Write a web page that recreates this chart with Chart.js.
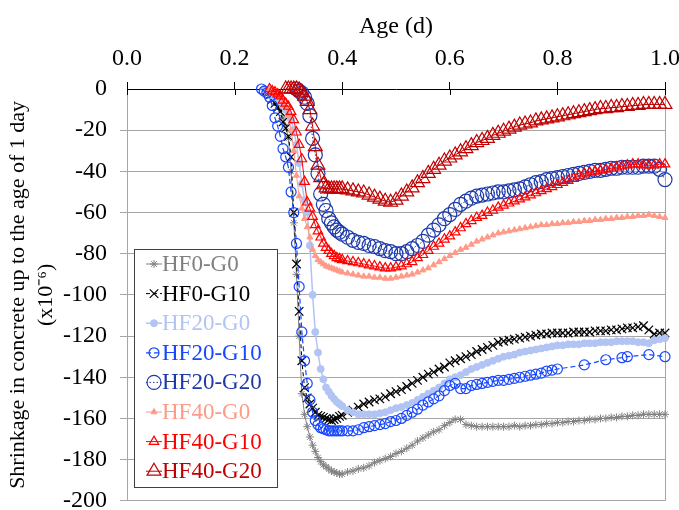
<!DOCTYPE html>
<html>
<head>
<meta charset="utf-8">
<script src="https://cdn.jsdelivr.net/npm/chart.js@4.4.1/dist/chart.umd.min.js"></script>
<style>
  html, body { margin: 0; padding: 0; background: #fff; }
  #wrap { width: 679px; height: 510px; }
</style>
</head>
<body>
<div id="wrap"><canvas id="c" width="679" height="510"></canvas></div>
<script>
// age in days; finer steps through the drop
const ages = [
  0.25, 0.255, 0.26, 0.265, 0.27, 0.275, 0.28, 0.285, 0.29, 0.295,
  0.30, 0.305, 0.31, 0.315, 0.32, 0.325, 0.33, 0.335, 0.34, 0.345,
  0.35, 0.355, 0.36, 0.365, 0.37, 0.375, 0.38, 0.385, 0.39, 0.395,
  0.40, 0.41, 0.42, 0.43, 0.44, 0.45, 0.46, 0.47, 0.48, 0.49,
  0.50, 0.51, 0.52, 0.53, 0.54, 0.55, 0.56, 0.57, 0.58, 0.59,
  0.60, 0.61, 0.62, 0.63, 0.64, 0.65, 0.66, 0.67, 0.68, 0.69,
  0.70, 0.71, 0.72, 0.73, 0.74, 0.75, 0.76, 0.77, 0.78, 0.79,
  0.80, 0.81, 0.82, 0.83, 0.84, 0.85, 0.86, 0.87, 0.88, 0.89,
  0.90, 0.91, 0.92, 0.93, 0.94, 0.95, 0.96, 0.97, 0.98, 0.99,
  1.00
];

const hf0g0 = [
  null, null, -1, -2, -4, -6, -8, -10, -14, -18,
  -24, -40, -65, -90, -120, -148, -158, -164, -169, -173,
  -176, -179, -181, -182.5, -183.5, -184.5, -185.5, -186, -186.5, -187,
  -187, -186, -185.5, -184.5, -184, -183, -181.5, -180.5, -179.5, -178.5,
  -177, -176, -174.5, -173, -171, -169.5, -168, -166.5, -165.5, -163.5,
  -162, -160.5, -160.5, -163, -163.5, -164, -164, -164, -164, -164,
  -164, -164, -163.5, -164, -163.5, -163.5, -163, -163, -162.5, -162.5,
  -162, -162, -161.5, -161.5, -161, -161, -160.5, -160.5, -160, -160,
  -159.5, -159.5, -159, -159, -158.5, -158.5, -158, -158, -158, -158,
  -158
];

const hf0g10 = [
  null, null, -1, -3, -5, -7, -9, -11, -16, -19,
  -23, -33, -60, -85, -108, -132, -145, -150, -153, -155,
  -157, -158.5, -159, -159.5, -160, -160.5, -161, -160.5, -160, -159,
  -158.5, -157, -156, -154.5, -153, -152, -151, -150.5, -149.5, -148,
  -147, -146, -144.5, -143, -141.5, -140, -138.5, -137.5, -136, -135,
  -133, -132, -131, -130, -129, -127.5, -126.5, -125.5, -124.5, -123,
  -122.5, -122, -121.5, -121, -120.5, -120, -119.5, -119, -119, -118.5,
  -118.5, -118.5, -118.5, -118, -118, -118, -118, -117.5, -117.5, -117.5,
  -117, -117, -116.5, -116, -116, -115.5, -115, -117, -119, -118.5,
  -118.5
];

const hf20g0 = [
  null, 0, -1, -2, -3, -4, -5, -6, -8, -10,
  -12, -15, -20, -27, -36, -46, -54, -60, -76, -100,
  -118, -128, -136, -141, -145, -147, -149, -150.5, -152, -153,
  -154, -156, -157, -158, -158, -158, -158, -157.5, -157, -156,
  -155, -154.5, -153.5, -152.5, -151, -149.5, -148, -146.5, -145, -143,
  -141, -140, -139, -137.5, -136, -135, -134, -133, -132, -131,
  -130, -129.5, -129, -128, -127.5, -127, -126.5, -126, -125.5, -125,
  -124.5, -124.5, -124, -124, -124, -123.5, -123.5, -123.5, -123, -123,
  -123, -122.5, -122.5, -122.5, -122.5, -123, -123, -123.5, -122, -121.5,
  -121
];

const hf20g10 = [
  0, -1, -2, -4, -8, -14, -18, -23, -29, -33,
  -38, -50, -60, -75, -96, -118, -132, -143, -151, -157,
  -161, -163, -164.5, -165, -165.5, -166, -166, -166, -166, -166,
  -166, -166, -166, -165.5, -164.5, -164, -163.5, -163, -162.5, -161.5,
  -161, -160, -158.5, -157, -155.5, -153.5, -152, -150.5, -149, -146.5,
  -144, -143, -145.5, -145.5, -144, -143.5, -143, -142.5, -142, -141.5,
  -141.5, -141, -140.5, -140, -139.5, -139, -138.5, -138, -137, -136.5,
  -136, null, null, null, null, -134, null, null, null, -131.5,
  null, null, -130.5, -130, null, null, null, -129, null, null,
  -130
];

const hf20g20 = [
  null, null, null, null, null, null, null, null, null, null,
  null, null, null, 0, -1, -2, -4, -7, -13, -24,
  -32, -41, -51, -56, -59, -63, -65, -67, -68.5, -69.5,
  -70.5, -72, -73.5, -74.5, -75, -76, -76.5, -77.5, -78.5, -79,
  -80, -80, -79, -77.5, -76, -74, -71, -68.5, -66, -63,
  -61, -58.5, -56, -54.5, -53, -52, -51.5, -51, -50.5, -50,
  -50, -49.5, -49, -48.5, -47.5, -46.5, -45.5, -45, -44, -43.5,
  -43, -42.5, -42, -41.5, -41, -40.5, -40, -39.5, -39.5, -39,
  -38.5, -38.5, -38, -38, -38, -38, -37.5, -37.5, -37.5, -39,
  -44
];

const hf40g0 = [
  null, null, null, 0, -1, -2, -3, -4, -6, -9,
  -13, -20, -30, -42, -52, -58, -63, -67, -72, -78,
  -81, -83, -84, -85, -86, -86.5, -87, -87.5, -88, -88.5,
  -89, -89.5, -90, -90.5, -91, -91, -91.5, -91.5, -92, -92,
  -91.5, -91, -90.5, -90, -89, -88, -87, -85.5, -84, -82.5,
  -81, -79.5, -78, -77, -75.5, -74, -73, -72, -71, -70,
  -69.5, -69, -68.5, -68, -67.5, -67, -66.5, -66, -66, -65.5,
  -65.5, -65, -65, -64.5, -64.5, -64, -64, -63.5, -63.5, -63,
  -63, -62.5, -62.5, -62, -62, -61.5, -61.5, -61, -61.5, -62,
  -62.5
];

const hf40g10 = [
  null, null, null, 0, -1, -1.5, -2.5, -3.5, -5.5, -7,
  -8.5, -11, -15, -21, -27, -34, -45, -55, -58, -62,
  -66, -69, -72, -75, -77, -78.5, -80, -81, -82, -82.5,
  -83, -83.5, -84, -84.5, -85, -85.5, -86, -86.5, -87, -87,
  -86.5, -86, -85, -84, -82, -80.5, -78.5, -76.5, -75, -73,
  -71.5, -69.5, -67.5, -65.5, -64, -62.5, -61.5, -60, -59, -57.5,
  -56.5, -55.5, -54.5, -53.5, -52.5, -51.5, -50.5, -49.5, -48.5, -47.5,
  -46.5, -45.5, -44.5, -43.5, -42, -41, -40.5, -40, -39.5, -39,
  -38.5, -38, -37.5, -37, -36.5, -36.5, -37, -37, -37, -36.5,
  -36.5
];

const hf40g20 = [
  null, null, null, null, null, null, null, null, null, 0,
  0, 0, 0, 0, -0.5, -1.5, -3.5, -6, -10, -18,
  -28, -37, -43, -46.5, -48, -48.5, -48.5, -48.5, -48.5, -48.5,
  -48.5, -49, -49.5, -50, -50.5, -51.5, -52.5, -53.5, -54.5, -55,
  -54, -52, -50, -48, -45.5, -43.5, -41, -39, -37, -35,
  -33.5, -32, -30.5, -29, -27.5, -26, -25, -24, -22.5, -21.5,
  -20.5, -19.5, -18.5, -17.5, -17, -16.5, -15.5, -15, -14.5, -14,
  -13.5, -13, -12.5, -12, -11.5, -11, -10.5, -10, -9.5, -9.5,
  -9, -9, -8.5, -8.5, -8, -8, -7.5, -7.5, -7.5, -7.5,
  -7.5
];

const FONT = "'Liberation Serif', 'Times New Roman', serif";

const series = [
  { label: 'HF0-G0',   values: hf0g0,   color: '#808080', style: 'star',     radius: 4,   filled: false, pointWidth: 1,   lineWidth: 1,   dash: [] },
  { label: 'HF0-G10',  values: hf0g10,  color: '#000000', style: 'crossRot', radius: 6,   filled: false, pointWidth: 1.2, lineWidth: 1,   dash: [4, 3] },
  { label: 'HF20-G0',  values: hf20g0,  color: '#b1c4f3', style: 'circle',   radius: 3.5, filled: true,  pointWidth: 1,   lineWidth: 1.5, dash: [] },
  { label: 'HF20-G10', values: hf20g10, color: '#1747ff', style: 'circle',   radius: 5,   filled: false, pointWidth: 1.2, lineWidth: 1.2, dash: [5, 3] },
  { label: 'HF20-G20', values: hf20g20, color: '#1c3aa9', style: 'circle',   radius: 7,   filled: false, pointWidth: 1.2, lineWidth: 1,   dash: [1.5, 2] },
  { label: 'HF40-G0',  values: hf40g0,  color: '#ff9a88', style: 'triangle', radius: 3.5, filled: true,  pointWidth: 1,   lineWidth: 1,   dash: [] },
  { label: 'HF40-G10', values: hf40g10, color: '#ff0000', style: 'triangle', radius: 5.5, filled: false, pointWidth: 1.2, lineWidth: 1,   dash: [] },
  { label: 'HF40-G20', values: hf40g20, color: '#c00000', style: 'triangle', radius: 8,   filled: false, pointWidth: 1.2, lineWidth: 1,   dash: [] }
];

function drawMarker(ctx, s, x, y) {
  const r = s.radius;
  ctx.save();
  ctx.setLineDash([]);
  ctx.lineWidth = s.pointWidth;
  ctx.strokeStyle = s.color;
  ctx.fillStyle = s.color;
  ctx.beginPath();
  if (s.style === 'circle') {
    ctx.arc(x, y, r, 0, Math.PI * 2);
  } else if (s.style === 'triangle') {
    const a = r * Math.sin(Math.PI / 3);
    ctx.moveTo(x, y - r);
    ctx.lineTo(x + a, y + r / 2);
    ctx.lineTo(x - a, y + r / 2);
    ctx.closePath();
  } else {
    const d = r * Math.SQRT1_2;
    ctx.moveTo(x - d, y - d); ctx.lineTo(x + d, y + d);
    ctx.moveTo(x + d, y - d); ctx.lineTo(x - d, y + d);
    if (s.style === 'star') {
      ctx.moveTo(x, y - r); ctx.lineTo(x, y + r);
      ctx.moveTo(x - r, y); ctx.lineTo(x + r, y);
    }
  }
  if (s.filled) ctx.fill();
  ctx.stroke();
  ctx.restore();
}

// frame bits Excel draws that Chart.js doesn't: inner tick halves, right border
const frame = {
  id: 'frame',
  beforeDatasetsDraw(chart) {
    const { ctx, chartArea: a, scales } = chart;
    ctx.save();
    ctx.strokeStyle = '#a6a6a6';
    ctx.lineWidth = 1;
    ctx.beginPath();
    ctx.moveTo(Math.round(a.right) + 0.5, a.top);
    ctx.lineTo(Math.round(a.right) + 0.5, a.bottom);
    ctx.stroke();
    ctx.strokeStyle = '#000';
    ctx.beginPath();
    scales.x.ticks.forEach(t => {
      const px = Math.round(scales.x.getPixelForValue(t.value)) + 0.5;
      ctx.moveTo(px, a.top);
      ctx.lineTo(px, a.top + 6);
    });
    ctx.stroke();
    ctx.restore();
  }
};

const legendBox = {
  id: 'legendBox',
  afterDraw(chart) {
    const ctx = chart.ctx;
    ctx.save();
    ctx.fillStyle = '#fff';
    ctx.strokeStyle = '#404040';
    ctx.lineWidth = 1;
    ctx.fillRect(134.5, 249.5, 143, 238);
    ctx.strokeRect(134.5, 249.5, 143, 238);
    ctx.font = '23px ' + FONT;
    ctx.textBaseline = 'middle';
    ctx.textAlign = 'left';
    series.forEach((s, i) => {
      const y = 264 + i * 29.6;
      ctx.strokeStyle = s.color;
      ctx.lineWidth = s.lineWidth;
      ctx.setLineDash(s.dash);
      ctx.beginPath();
      ctx.moveTo(146, y);
      ctx.lineTo(162, y);
      ctx.stroke();
      ctx.setLineDash([]);
      drawMarker(ctx, s, 154, y);
      ctx.fillStyle = s.color;
      ctx.fillText(s.label, 162, y + 1);
    });
    ctx.restore();
  }
};

new Chart(document.getElementById('c'), {
  type: 'line',
  data: {
    datasets: series.map((s, i) => ({
      label: s.label,
      data: ages.map((a, k) => ({ x: a, y: s.values[k] })),
      borderColor: s.color,
      borderWidth: s.lineWidth,
      borderDash: s.dash,
      pointStyle: s.style,
      pointRadius: s.radius,
      pointHoverRadius: s.radius,
      pointBorderColor: s.color,
      pointBackgroundColor: s.filled ? s.color : 'rgba(0,0,0,0)',
      pointBorderWidth: s.pointWidth,
      tension: 0,
      spanGaps: true,
      fill: false,
      clip: false,
      order: series.length - i
    }))
  },
  options: {
    responsive: false,
    animation: false,
    devicePixelRatio: 1,
    events: [],
    layout: { padding: { left: 0, right: 14, top: 0, bottom: 8 } },
    plugins: { legend: { display: false }, tooltip: { enabled: false } },
    scales: {
      x: {
        type: 'linear',
        position: 'top',
        min: 0,
        max: 1,
        ticks: {
          stepSize: 0.2,
          callback: v => v.toFixed(1),
          font: { family: FONT, size: 24 },
          color: '#000',
          padding: 9,
          maxRotation: 0
        },
        grid: { drawOnChartArea: false, color: '#000', tickLength: 7 },
        border: { color: '#000', width: 1 },
        title: {
          display: true,
          text: 'Age (d)',
          font: { family: FONT, size: 24 },
          color: '#000',
          padding: { top: 12, bottom: 0 }
        },
        afterFit: s => { s.height = 89; s.paddingLeft = 0; s.paddingRight = 0; }
      },
      y: {
        min: -200,
        max: 0,
        ticks: {
          stepSize: 20,
          font: { family: FONT, size: 24 },
          color: '#000',
          padding: 13
        },
        grid: {
          color: c => (c.tick && c.tick.value === 0) ? 'rgba(0,0,0,0)' : '#a6a6a6',
          tickLength: 7
        },
        border: { color: '#a6a6a6' },
        title: {
          display: true,
          text: ['Shrinkage in concrete up to the age of 1 day', '(x10\u207B\u2076)'],
          font: { family: FONT, size: 22, lineHeight: 1.27 },
          color: '#000',
          padding: { top: 4, bottom: 0 }
        },
        afterFit: s => { s.width = 127; s.paddingTop = 0; s.paddingBottom = 0; }
      }
    }
  },
  plugins: [frame, legendBox]
});
</script>
</body>
</html>
